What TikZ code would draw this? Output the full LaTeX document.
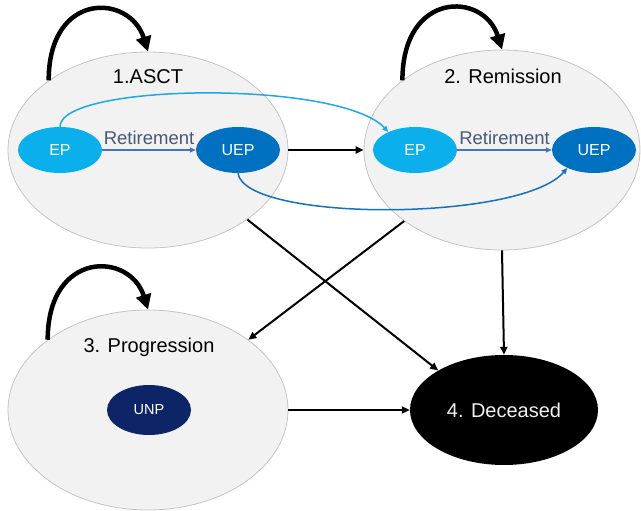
\documentclass[tikz,border=0pt]{standalone}
\usepackage{fontspec}
\setmainfont{Liberation Sans}
\usetikzlibrary{arrows.meta,shapes.geometric}
\definecolor{stfill}{HTML}{F2F2F2}
\definecolor{stdraw}{HTML}{C4C4C4}
\definecolor{epc}{HTML}{0AAFEC}
\definecolor{uepc}{HTML}{0070C0}
\definecolor{unpc}{HTML}{0D2566}
\definecolor{retc}{HTML}{4472C4}
\definecolor{rettext}{HTML}{4A5878}
\definecolor{lbcurve}{HTML}{1EA8E8}
\definecolor{dbcurve}{HTML}{1570BE}
\begin{document}
\begin{tikzpicture}[x=1pt,y=-1pt,
  state/.style={ellipse, fill=stfill, draw=stdraw, line width=0.8pt, inner sep=0pt},
  sub/.style={ellipse, inner sep=0pt, minimum width=84pt, minimum height=46pt, text=white, font=\fontsize{16}{19}\selectfont},
  titlelbl/.style={font=\fontsize{20}{24}\selectfont, anchor=base},
  selfloop/.style={line width=4.5pt, -{Triangle[length=15pt,width=15pt]}},
  trans/.style={line width=2pt, -{Triangle[length=8pt,width=7pt]}},
  retarrow/.style={retc, line width=1.2pt, -{Triangle[length=6pt,width=5pt]}},
  retlbl/.style={text=rettext, font=\fontsize{18.5}{21}\selectfont, anchor=base, inner sep=0pt, yshift=5pt},
  curvearrow/.style={line width=1.5pt, -{Triangle[length=6pt,width=5pt]}}]
\useasboundingbox (0,0) rectangle (641,511);
% states
\node[state, minimum width=280pt, minimum height=196pt] (s1) at (148,150) {};
\node[state, minimum width=276pt, minimum height=200pt] (s2) at (502,150) {};
\node[state, minimum width=280pt, minimum height=200pt] (s3) at (148,410) {};
\node[ellipse, fill=black, inner sep=0pt, minimum width=188pt, minimum height=110pt,
      text={rgb,255:red,240;green,240;blue,240}, font=\fontsize{20}{24}\selectfont] (s4) at (504,410) {4. Deceased};
% titles
\node[titlelbl] (t1) at (148,84) {1.ASCT};
\node[titlelbl] (t2) at (503,84) {2. Remission};
\node[titlelbl] (t3) at (149,352) {3. Progression};
% sub states
\node[sub, fill=epc] (ep1) at (60,150) {EP};
\node[sub, fill=uepc] (uep1) at (238,150) {UEP};
\node[sub, fill=epc] (ep2) at (415,150) {EP};
\node[sub, fill=uepc] (uep2) at (594,150) {UEP};
\node[sub, fill=unpc, minimum height=50pt, font=\fontsize{14.5}{17}\selectfont] (unp) at (149,410) {UNP};
% retirement
\draw[retarrow] (ep1.east) -- node[retlbl] {Retirement} (uep1.west);
\draw[retarrow] (ep2.east) -- node[retlbl] {Retirement} (uep2.west);
% curved transitions
\draw[curvearrow, lbcurve] (ep1.north) .. controls +(0,-44) and +(-48,-52) .. (ep2.146);
\draw[curvearrow, dbcurve] (uep1.south) .. controls +(7,49) and +(-47,54) .. (uep2.214);
% self loops
\draw[selfloop] (s1.145) .. controls +(0,-90) and +(-18,-58) .. (s1.north);
\draw[selfloop] (s2.145) .. controls +(0,-90) and +(-18,-58) .. (s2.north);
\draw[selfloop] (s3.145) .. controls +(0,-90) and +(-18,-58) .. (s3.north);
% transitions
\draw[trans] (s1.east) -- (s2.west);
\draw[trans] (s1.-35.4) -- (s4.149);
\draw[trans] (s2.216.2) -- (s3.35.8);
\draw[trans] (s2.south) -- (s4.north);
\draw[trans] (s3.east) -- (s4.west);
\end{tikzpicture}
\end{document}
